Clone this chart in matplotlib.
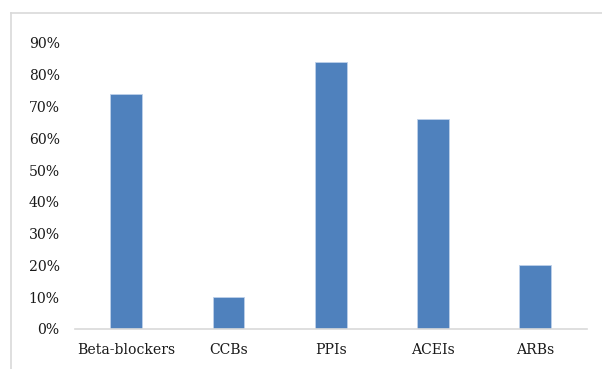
import matplotlib
matplotlib.use("Agg")
import matplotlib.pyplot as plt
from matplotlib.lines import Line2D
from matplotlib.ticker import FuncFormatter

categories = ["Beta-blockers", "CCBs", "PPIs", "ACEIs", "ARBs"]
values = [0.74, 0.10, 0.84, 0.66, 0.20]
yticks = [0.0, 0.1, 0.2, 0.3, 0.4, 0.5, 0.6, 0.7, 0.8, 0.9]

W, H = 602, 369
fig = plt.figure(figsize=(W / 100, H / 100), dpi=100)
fig.patch.set_facecolor("white")

# chart-area frame (left and top edges visible)
frame_col = "#D9D9D9"
fig.add_artist(Line2D([11 / W, 11 / W], [0, 1 - 13 / H], transform=fig.transFigure,
                      color=frame_col, lw=1.2))
fig.add_artist(Line2D([11 / W, 1], [1 - 13 / H, 1 - 13 / H], transform=fig.transFigure,
                      color=frame_col, lw=1.2))

left, right, top, bottom = 75, 586.5, 43, 329
ax = fig.add_axes([left / W, 1 - bottom / H, (right - left) / W, (bottom - top) / H])

x = range(len(categories))
ax.bar(x, values, width=0.31, color="#4F81BD", edgecolor="#BDD0E9", linewidth=0.6, zorder=2)

ax.set_xlim(-0.5, len(categories) - 0.5)
ax.set_ylim(0, 0.9)
ax.set_yticks(yticks)
ax.yaxis.set_major_formatter(FuncFormatter(lambda v, _: f"{round(v * 100):d}%"))
ax.set_xticks(list(x))
ax.set_xticklabels(categories)

for s in ["top", "right", "left"]:
    ax.spines[s].set_visible(False)
ax.spines["bottom"].set_color("#D9D9D9")
ax.spines["bottom"].set_linewidth(1.2)

font = "DejaVu Serif"
ax.tick_params(axis="both", length=0, colors="#1a1a1a", labelsize=10.1)
ax.tick_params(axis="y", pad=11)
ax.tick_params(axis="x", pad=10)
for lbl in ax.get_xticklabels() + ax.get_yticklabels():
    lbl.set_fontfamily(font)

fig.savefig("out.png", dpi=100, facecolor="white")
